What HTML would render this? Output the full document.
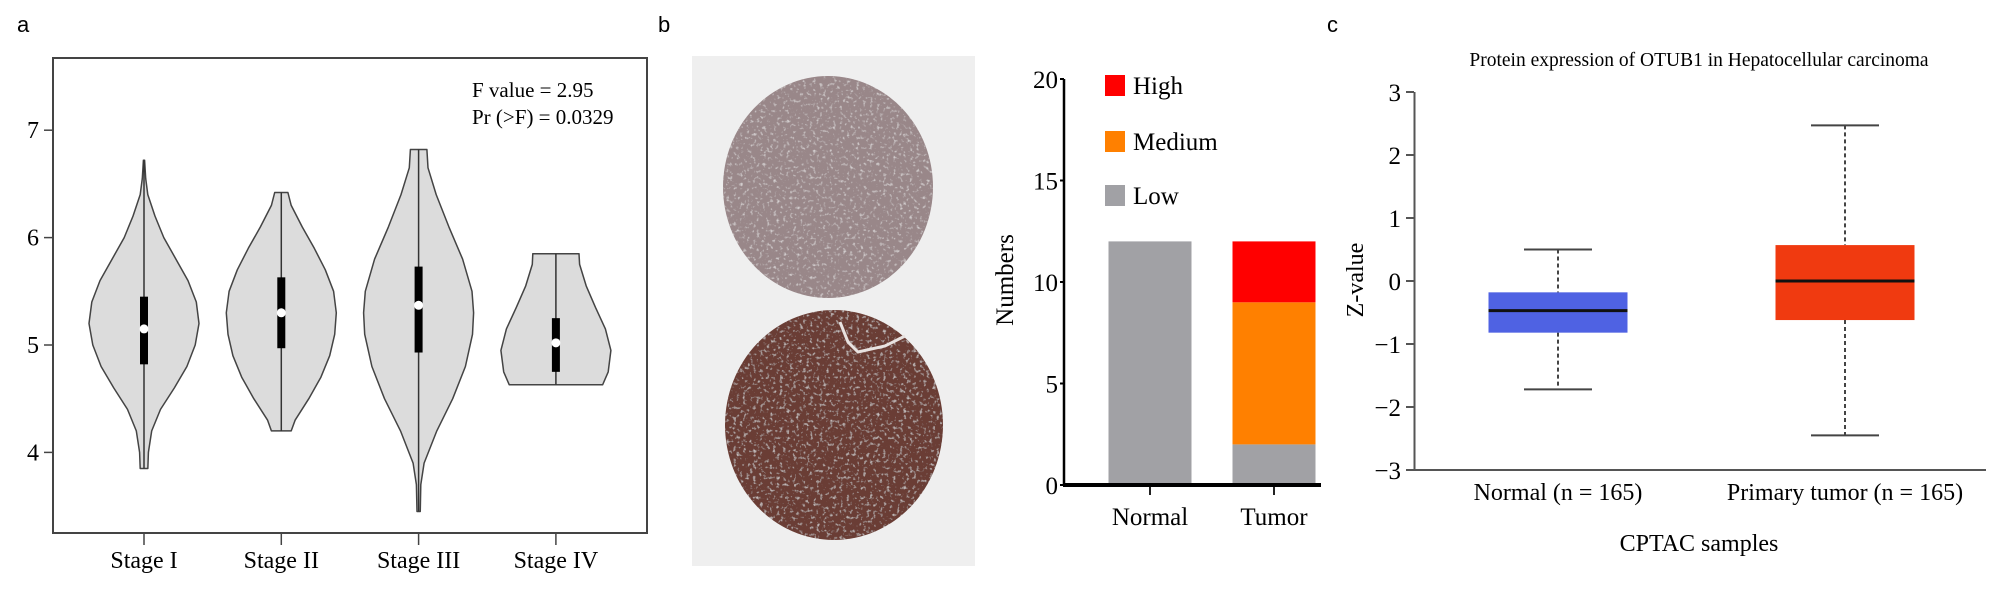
<!DOCTYPE html>
<html><head><meta charset="utf-8"><style>
html,body{margin:0;padding:0;background:#fff;}
svg{display:block;font-family:"Liberation Serif",serif;}
</style></head><body>
<svg id="fig" width="2000" height="590" viewBox="0 0 2000 590" xmlns="http://www.w3.org/2000/svg">
<defs>
 <filter id="tex" x="0" y="0" width="100%" height="100%">
  <feTurbulence type="fractalNoise" baseFrequency="0.3" numOctaves="2" seed="3" result="n"/>
  <feColorMatrix in="n" type="matrix" values="0 0 0 0 1  0 0 0 0 1  0 0 0 0 1  3.5 0 0 0 -2.0" result="w"/>
  <feComponentTransfer in="w" result="w2"><feFuncA type="linear" slope="0.5"/></feComponentTransfer>
  <feComposite in="w2" in2="SourceGraphic" operator="in" result="wc"/>
  <feMerge><feMergeNode in="SourceGraphic"/><feMergeNode in="wc"/></feMerge>
 </filter>
</defs>
<text x="17" y="32" font-family="Liberation Sans, sans-serif" font-size="22">a</text>
<text x="658" y="32" font-family="Liberation Sans, sans-serif" font-size="22">b</text>
<text x="1327" y="32" font-family="Liberation Sans, sans-serif" font-size="22">c</text>
<g id="pa"></g>
<g>
 <rect x="692" y="56" width="283" height="510" fill="#efefef"/>
 <ellipse cx="828" cy="187" rx="105" ry="111" fill="#998789" filter="url(#tex)"/>
 <ellipse cx="834" cy="425" rx="109" ry="115" fill="#6a3d34" filter="url(#tex)"/>
 <path d="M840 322 L848 342 L858 352 L885 346 L905 336" stroke="#e8e2e0" stroke-width="3" fill="none"/>
</g>
<g id="pb"></g>
<g id="pc"></g>
</svg>
<script>
const NS="http://www.w3.org/2000/svg";
function mk(p,tag,attrs,txt){const e=document.createElementNS(NS,tag);for(const k in attrs)e.setAttribute(k,attrs[k]);if(txt!==undefined)e.textContent=txt;p.appendChild(e);return e;}

// ---------- Panel a data ----------
const stages=["Stage I","Stage II","Stage III","Stage IV"];
const aTicks=[4,5,6,7];
const vMedian=[5.15,5.30,5.37,5.02];
const vQ1=[4.82,4.97,4.93,4.75];
const vQ3=[5.45,5.63,5.73,5.25];
const vMin=[3.85,4.20,3.45,4.63];
const vMax=[6.72,6.42,6.82,5.85];
// density profiles: [value, relative half-width]
const vDens=[
 [[3.85,0.07],[4.0,0.08],[4.2,0.14],[4.4,0.3],[4.6,0.55],[4.8,0.78],[5.0,0.93],[5.2,1.0],[5.4,0.95],[5.6,0.8],[5.8,0.58],[6.0,0.36],[6.2,0.2],[6.4,0.07],[6.55,0.03],[6.72,0.01]],
 [[4.2,0.18],[4.3,0.25],[4.5,0.5],[4.7,0.72],[4.9,0.88],[5.1,0.97],[5.3,1.0],[5.5,0.95],[5.7,0.8],[5.9,0.6],[6.1,0.38],[6.3,0.18],[6.42,0.12]],
 [[3.45,0.03],[3.7,0.04],[3.9,0.1],[4.2,0.33],[4.5,0.62],[4.8,0.85],[5.1,0.98],[5.3,1.0],[5.5,0.97],[5.8,0.8],[6.1,0.55],[6.4,0.32],[6.65,0.17],[6.82,0.15]],
 [[4.63,0.85],[4.75,0.95],[4.95,1.0],[5.15,0.9],[5.35,0.72],[5.55,0.55],[5.75,0.43],[5.85,0.42]]
];
(function(){
 const g=document.getElementById('pa');
 const L=53,R=647,T=58,B=533;
 const y=v=>345-(v-5)*107.4;
 const x=i=>144+i*137.3;
 const hw=55;
 for(let i=0;i<stages.length;i++){
  const d=vDens[i];
  let pts=d.map(p=>[x(i)+p[1]*hw,y(p[0])]);
  let back=d.slice().reverse().map(p=>[x(i)-p[1]*hw,y(p[0])]);
  const all=pts.concat(back);
  let path="M"+all[0][0]+" "+all[0][1];
  for(let k=1;k<all.length;k++){path+=" L"+all[k][0].toFixed(1)+" "+all[k][1].toFixed(1);}
  path+="Z";
  const vp=mk(g,'path',{d:path,fill:'#dcdcdc',stroke:'#444','stroke-width':1.5,'stroke-linejoin':'round'});
  
  
  const ln=mk(g,'line',{x1:x(i),x2:x(i),y1:y(vMin[i]),y2:y(vMax[i]),stroke:'#333','stroke-width':1.5});
  
  
  const bx=mk(g,'rect',{x:x(i)-4,width:8,y:y(vQ3[i]),height:y(vQ1[i])-y(vQ3[i]),fill:'#000'});
  
  
  const md=mk(g,'circle',{cx:x(i),cy:y(vMedian[i]),r:4.5,fill:'#fff'});
  
  
  const tk=mk(g,'line',{x1:x(i),x2:x(i),y1:B,y2:B+12,stroke:'#444','stroke-width':1.5});
  
  
  const tl=mk(g,'text',{x:x(i),y:568,'text-anchor':'middle','font-size':24},stages[i]);
  
  
 }
 const fr=mk(g,'rect',{x:L,y:T,width:R-L,height:B-T,fill:'none',stroke:'#444','stroke-width':2});
 
 
 aTicks.forEach(v=>{
  const t=mk(g,'line',{x1:L-9,x2:L,y1:y(v),y2:y(v),stroke:'#444','stroke-width':1.5});
  
  
  const tl=mk(g,'text',{x:L-14,y:y(v)+8,'text-anchor':'end','font-size':24},String(v));
  
  
 });
 const a1=mk(g,'text',{x:472,y:97,'font-size':21},'F value = 2.95');
 
 
 const a2=mk(g,'text',{x:472,y:124,'font-size':21},'Pr (>F) = 0.0329');
 
 
})();

// ---------- Panel b data ----------
const bCats=["Normal","Tumor"];
const bLow=[12,2];
const bMedium=[0,7];
const bHigh=[0,3];
const bTicks=[0,5,10,15,20];
const bSeries=["High","Medium","Low"];
(function(){
 const g=document.getElementById('pb');
 const y=v=>485-v*20.3;
 const cx=[1150,1274];
 const bw=83;
 const cols={Low:'#a1a1a5',Medium:'#ff8000',High:'#ff0000'};
 for(let i=0;i<bCats.length;i++){
  let base=0;
  [["Low",bLow[i]],["Medium",bMedium[i]],["High",bHigh[i]]].forEach(s=>{
   if(s[1]<=0)return;
   const r=mk(g,'rect',{x:cx[i]-bw/2,width:bw,y:y(base+s[1]),height:y(base)-y(base+s[1]),fill:cols[s[0]]});
   
   
   base+=s[1];
  });
  const t=mk(g,'line',{x1:cx[i],x2:cx[i],y1:485,y2:495,stroke:'#222','stroke-width':2});
  
  
  const tl=mk(g,'text',{x:cx[i],y:525,'text-anchor':'middle','font-size':25},bCats[i]);
  
  
 }
 const ya=mk(g,'line',{x1:1064,x2:1064,y1:y(20),y2:486,stroke:'#000','stroke-width':2.5});
 
 
 const xa=mk(g,'line',{x1:1063,x2:1321,y1:485,y2:485,stroke:'#000','stroke-width':4});
 
 
 bTicks.forEach(v=>{
  const t=mk(g,'line',{x1:1060,x2:1064,y1:y(v),y2:y(v),stroke:'#000','stroke-width':2});
  
  
  const tl=mk(g,'text',{x:1058,y:y(v)+9,'text-anchor':'end','font-size':25},String(v));
  
  
 });
 const yt=mk(g,'text',{x:0,y:0,'text-anchor':'middle','font-size':25,transform:'translate(1013,280) rotate(-90)'},'Numbers');
 
 
 const ly=[75,131,185];
 bSeries.forEach((s,k)=>{
  const r=mk(g,'rect',{x:1105,y:ly[k],width:20,height:21,fill:cols[s]});
  
  
  const t=mk(g,'text',{x:1133,y:ly[k]+19,'font-size':25},s);
  
  
 });
})();

// ---------- Panel c data ----------
const cCats=["Normal (n = 165)","Primary tumor (n = 165)"];
const cMin=[-1.72,-2.45];
const cQ1=[-0.82,-0.62];
const cMed=[-0.47,0.0];
const cQ3=[-0.18,0.57];
const cMax=[0.5,2.47];
const cTicks=[-3,-2,-1,0,1,2,3];
(function(){
 const g=document.getElementById('pc');
 const y=v=>281-v*63;
 const cx=[1558,1845];
 const bw=139, cw=68;
 const cols=['#4f62e3','#f03a10'];
 const ti=mk(g,'text',{x:1699,y:66,'text-anchor':'middle','font-size':19.5},'Protein expression of OTUB1 in Hepatocellular carcinoma');
 
 
 for(let i=0;i<cCats.length;i++){
  const w1=mk(g,'line',{x1:cx[i],x2:cx[i],y1:y(cMax[i]),y2:y(cQ3[i]),stroke:'#444','stroke-width':2,'stroke-dasharray':'4,3'});
  
  
  const w2=mk(g,'line',{x1:cx[i],x2:cx[i],y1:y(cQ1[i]),y2:y(cMin[i]),stroke:'#444','stroke-width':2,'stroke-dasharray':'4,3'});
  
  
  [cMax[i],cMin[i]].forEach(v=>{
   const c=mk(g,'line',{x1:cx[i]-cw/2,x2:cx[i]+cw/2,y1:y(v),y2:y(v),stroke:'#444','stroke-width':2});
   
   
  });
  const b=mk(g,'rect',{x:cx[i]-bw/2,width:bw,y:y(cQ3[i]),height:y(cQ1[i])-y(cQ3[i]),fill:cols[i]});
  
  
  const m=mk(g,'line',{x1:cx[i]-bw/2,x2:cx[i]+bw/2,y1:y(cMed[i]),y2:y(cMed[i]),stroke:'#111','stroke-width':3});
  
  
  const tl=mk(g,'text',{x:cx[i],y:500,'text-anchor':'middle','font-size':24},cCats[i]);
  
  
 }
 const ya=mk(g,'line',{x1:1414.5,x2:1414.5,y1:y(3),y2:y(-3),stroke:'#555','stroke-width':2});
 
 
 const xa=mk(g,'line',{x1:1414,x2:1986,y1:y(-3),y2:y(-3),stroke:'#555','stroke-width':2});
 
 
 cTicks.forEach(v=>{
  const t=mk(g,'line',{x1:1406,x2:1414,y1:y(v),y2:y(v),stroke:'#555','stroke-width':2});
  
  
  const tl=mk(g,'text',{x:1401,y:y(v)+9,'text-anchor':'end','font-size':25},(v<0?'\u2212':'')+Math.abs(v));
  
  
 });
 const yt=mk(g,'text',{x:0,y:0,'text-anchor':'middle','font-size':24,transform:'translate(1363,280) rotate(-90)'},'Z-value');
 
 
 const xt=mk(g,'text',{x:1699,y:551,'text-anchor':'middle','font-size':24},'CPTAC samples');
 
 
})();
</script>
</body></html>
